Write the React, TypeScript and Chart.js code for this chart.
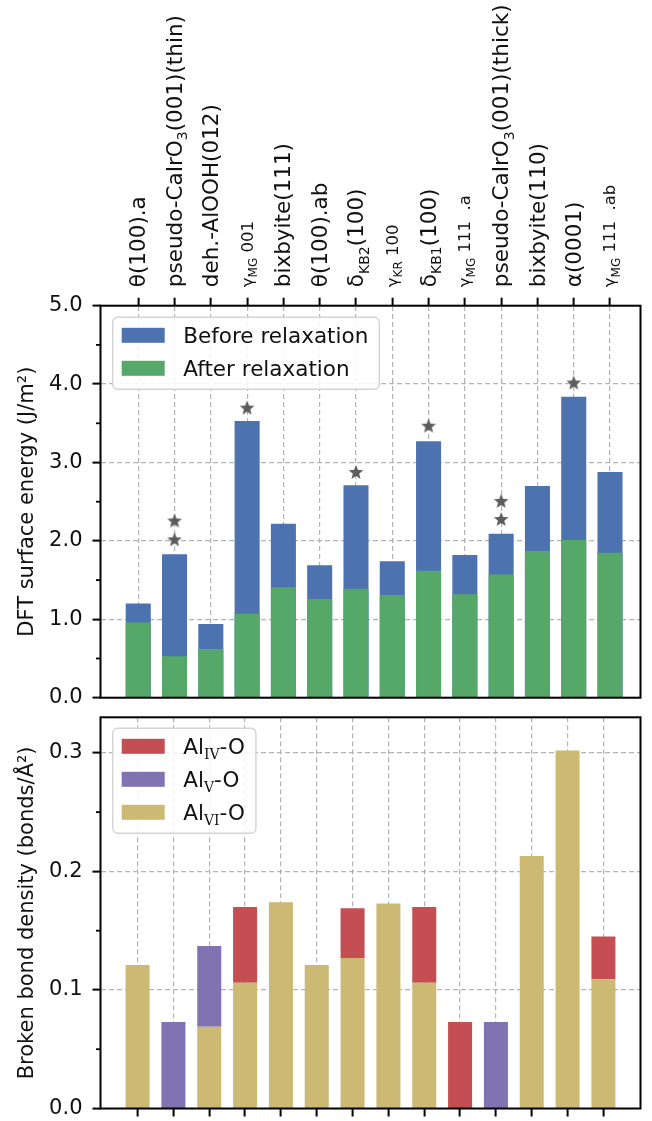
import React, { useEffect, useRef } from 'react';
import { Chart, registerables } from 'chart.js';

Chart.register(...registerables);

// ---------- data ----------
const categories = [
  'θ(100).a',
  'pseudo-CaIrO_{3}(001)(thin)',
  'deh.-AlOOH(012)',
  'γ_{MG} 001',
  'bixbyite(111)',
  'θ(100).ab',
  'δ_{KB2}(100)',
  'γ_{KR} 100',
  'δ_{KB1}(100)',
  'γ_{MG} 111  .a',
  'pseudo-CaIrO_{3}(001)(thick)',
  'bixbyite(110)',
  'α(0001)',
  'γ_{MG} 111  .ab',
];

const beforeRelax = [1.20, 1.83, 0.94, 3.53, 2.22, 1.69, 2.71, 1.74, 3.27, 1.82, 2.09, 2.70, 3.84, 2.88];
const afterRelax = [0.96, 0.53, 0.62, 1.07, 1.41, 1.26, 1.39, 1.31, 1.62, 1.32, 1.57, 1.87, 2.01, 1.85];

const starCategory = [1, 1, 3, 6, 8, 10, 10, 12];
const starHeight = [2.02, 2.26, 3.70, 2.88, 3.47, 2.28, 2.51, 4.02];

const alVI = [0.121, 0, 0.069, 0.106, 0.174, 0.121, 0.127, 0.173, 0.106, 0, 0, 0.213, 0.302, 0.109];
const alV = [0, 0.073, 0.068, 0, 0, 0, 0, 0, 0, 0, 0.073, 0, 0, 0];
const alIV = [0, 0, 0, 0.064, 0, 0, 0.042, 0, 0.064, 0.073, 0, 0, 0, 0.036];

const energyTicks = [0, 1, 2, 3, 4, 5];
const energyMinorTicks = [0.5, 1.5, 2.5, 3.5, 4.5];
const densityTicks = [0, 0.1, 0.2, 0.3];
const densityMinorTicks = [0.05, 0.15, 0.25];

const energyLegend = ['Before relaxation', 'After relaxation'];
const densityLegend = ['Al_{IV}-O', 'Al_{V}-O', 'Al_{VI}-O'];

// ---------- styles ----------
const BLUE = '#4C72B0';
const GREEN = '#55A868';
const RED = '#C44E52';
const PURPLE = '#8172B2';
const KHAKI = '#CCB974';
const STAR = '#5c5c5c';
const GRID = '#b4b4b4';
const FONT = '"DejaVu Sans"';
const SERIF = '"DejaVu Serif"';

function parseRich(s: string) {
  const parts = s.split(/_\{([^}]*)\}/);
  return parts.map((t, i) => ({ t, sub: i % 2 === 1 })).filter((p) => p.t.length > 0);
}

function makeStar(color: string) {
  const size = 18;
  const c = document.createElement('canvas');
  c.width = size;
  c.height = size;
  const g = c.getContext('2d')!;
  const cx = size / 2;
  const cy = size / 2 + 0.7;
  const R = 7.7;
  const r = R * 0.43;
  g.beginPath();
  for (let k = 0; k < 10; k++) {
    const a = -Math.PI / 2 + (k * Math.PI) / 5;
    const rad = k % 2 === 0 ? R : r;
    const px = cx + rad * Math.cos(a);
    const py = cy + rad * Math.sin(a);
    if (k === 0) g.moveTo(px, py);
    else g.lineTo(px, py);
  }
  g.closePath();
  g.fillStyle = color;
  g.fill();
  return c;
}

const framePlugin = {
  id: 'frame',
  afterDraw(chart: any, _args: any, opts: any) {
    const { ctx, chartArea } = chart;
    const ys = chart.scales.y;
    ctx.save();
    ctx.strokeStyle = '#000';
    ctx.lineWidth = 1.8;
    (opts.minor || []).forEach((v: number) => {
      const y = ys.getPixelForValue(v);
      ctx.beginPath();
      ctx.moveTo(chartArea.left - 4.5, y);
      ctx.lineTo(chartArea.left, y);
      ctx.stroke();
    });
    ctx.lineWidth = 2;
    ctx.strokeRect(chartArea.left, chartArea.top, chartArea.right - chartArea.left, chartArea.bottom - chartArea.top);
    ctx.restore();
  },
};

const legendPlugin = {
  id: 'boxLegend',
  afterDraw(chart: any, _args: any, opts: any) {
    const { ctx, chartArea } = chart;
    const items: { label: string; color: string }[] = opts.items || [];
    const left = chartArea.left + 12.2;
    const top = chartArea.top + opts.offsetTop;
    const rowGap = 33;
    const textX = left + 70.6;
    const mainSize = 21.5;
    const subSize = 14;
    ctx.save();
    let maxW = 0;
    items.forEach((it) => {
      let w = 0;
      parseRich(it.label).forEach((p) => {
        ctx.font = p.sub ? `${subSize}px ${SERIF}` : `${mainSize}px ${FONT}`;
        w += ctx.measureText(p.t).width;
      });
      maxW = Math.max(maxW, w);
    });
    const width = textX + maxW + 11 - left;
    const height = 18 + (items.length - 1) * rowGap + 21;
    const r = 5;
    ctx.beginPath();
    ctx.moveTo(left + r, top);
    ctx.arcTo(left + width, top, left + width, top + height, r);
    ctx.arcTo(left + width, top + height, left, top + height, r);
    ctx.arcTo(left, top + height, left, top, r);
    ctx.arcTo(left, top, left + width, top, r);
    ctx.closePath();
    ctx.fillStyle = 'rgba(255,255,255,0.85)';
    ctx.fill();
    ctx.strokeStyle = '#d4d4d4';
    ctx.lineWidth = 1.4;
    ctx.stroke();
    items.forEach((it, k) => {
      const cy = top + 18 + k * rowGap;
      ctx.fillStyle = it.color;
      ctx.fillRect(left + 9, cy - 7.5, 43, 15);
      let x = textX;
      ctx.fillStyle = '#111';
      ctx.textBaseline = 'alphabetic';
      ctx.textAlign = 'left';
      const base = cy + 0.36 * mainSize;
      parseRich(it.label).forEach((p) => {
        ctx.font = p.sub ? `${subSize}px ${SERIF}` : `${mainSize}px ${FONT}`;
        ctx.fillText(p.t, x, base + (p.sub ? 4.5 : 0));
        x += ctx.measureText(p.t).width;
      });
    });
    ctx.restore();
  },
};

const topLabelsPlugin = {
  id: 'topLabels',
  afterDraw(chart: any) {
    const { ctx, chartArea } = chart;
    const xs = chart.scales.x;
    const startY = chartArea.top - 8 - 10.5;
    categories.forEach((lab, i) => {
      const x = xs.getPixelForValue(i);
      const small = lab.startsWith('γ');
      const S = small ? 16.5 : 21.5;
      const subS = small ? 12 : 14;
      ctx.save();
      ctx.translate(x, startY);
      ctx.rotate(-Math.PI / 2);
      ctx.fillStyle = '#111';
      ctx.textBaseline = 'alphabetic';
      ctx.textAlign = 'left';
      let cx = 0;
      const base = 0.33 * S;
      parseRich(lab).forEach((p) => {
        ctx.font = `${p.sub ? subS : S}px ${FONT}`;
        ctx.fillText(p.t, cx, base + (p.sub ? 0.27 * S : 0));
        cx += ctx.measureText(p.t).width;
      });
      ctx.restore();
    });
  },
};

const gridCommon = {
  color: GRID,
  lineWidth: 1.2,
  tickLength: 8,
  tickWidth: 2,
  tickColor: '#000',
  tickBorderDash: [],
  offset: false,
  drawTicks: true,
};
const borderCommon = { display: false, dash: [5, 3] };

function fixX(h: number) {
  return (s: any) => {
    s.height = h;
    s.paddingLeft = 0;
    s.paddingRight = 0;
    s.paddingTop = 0;
    s.paddingBottom = 0;
  };
}
function fixY(w: number) {
  return (s: any) => {
    s.width = w;
    s.paddingLeft = 0;
    s.paddingRight = 0;
    s.paddingTop = 0;
    s.paddingBottom = 0;
  };
}

export default function App() {
  const topRef = useRef<HTMLCanvasElement>(null);
  const botRef = useRef<HTMLCanvasElement>(null);

  useEffect(() => {
    document.body.style.margin = '0';
    const star = makeStar(STAR);
    const tickFont = { family: 'DejaVu Sans', size: 21 };

    const top = new Chart(topRef.current!, {
      type: 'bar',
      data: {
        datasets: [
          {
            label: energyLegend[1],
            data: afterRelax.map((v, i) => ({ x: i, y: v })),
            backgroundColor: GREEN,
            grouped: false,
            barPercentage: 0.69,
            categoryPercentage: 1,
          } as any,
          {
            label: energyLegend[0],
            data: beforeRelax.map((v, i) => ({ x: i, y: v })),
            backgroundColor: BLUE,
            grouped: false,
            barPercentage: 0.69,
            categoryPercentage: 1,
          } as any,
          {
            type: 'line',
            label: 'stars',
            data: starCategory.map((c, k) => ({ x: c, y: starHeight[k] })),
            showLine: false,
            pointStyle: star,
            pointRadius: 7,
            backgroundColor: STAR,
            borderColor: STAR,
          } as any,
        ],
      },
      options: {
        animation: false,
        responsive: false,
        devicePixelRatio: 1,
        layout: { padding: { left: 0, right: 11.5, top: 0, bottom: 9.3 } },
        plugins: {
          legend: { display: false },
          tooltip: { enabled: false },
          frame: { minor: energyMinorTicks },
          boxLegend: {
            offsetTop: 11.6,
            items: [
              { label: energyLegend[0], color: BLUE },
              { label: energyLegend[1], color: GREEN },
            ],
          },
        } as any,
        scales: {
          x: {
            type: 'linear',
            position: 'top',
            min: -1.04,
            max: 13.84,
            offset: false,
            afterBuildTicks: (s: any) => {
              s.ticks = categories.map((_, i) => ({ value: i }));
            },
            afterFit: fixX(305.7),
            ticks: { display: false },
            grid: gridCommon,
            border: borderCommon,
          } as any,
          y: {
            type: 'linear',
            min: 0,
            max: 5,
            afterBuildTicks: (s: any) => {
              s.ticks = energyTicks.map((v) => ({ value: v }));
            },
            afterFit: fixY(100.5),
            ticks: {
              font: tickFont,
              color: '#111',
              padding: 10,
              callback: (v: any) => Number(v).toFixed(1),
            },
            grid: gridCommon,
            border: borderCommon,
            title: {
              display: true,
              text: 'DFT surface energy (J/m²)',
              font: tickFont,
              color: '#111',
              padding: { top: 15, bottom: 0 },
            },
          } as any,
        },
      },
      plugins: [framePlugin, legendPlugin, topLabelsPlugin],
    });

    const bot = new Chart(botRef.current!, {
      type: 'bar',
      data: {
        datasets: [
          { label: densityLegend[2], data: alVI.map((v, i) => ({ x: i, y: v })), backgroundColor: KHAKI },
          { label: densityLegend[1], data: alV.map((v, i) => ({ x: i, y: v })), backgroundColor: PURPLE },
          { label: densityLegend[0], data: alIV.map((v, i) => ({ x: i, y: v })), backgroundColor: RED },
        ] as any,
      },
      options: {
        animation: false,
        responsive: false,
        devicePixelRatio: 1,
        datasets: { bar: { barPercentage: 0.67, categoryPercentage: 1 } } as any,
        layout: { padding: { left: 0, right: 11.5, top: 10.3, bottom: 0 } },
        plugins: {
          legend: { display: false },
          tooltip: { enabled: false },
          frame: { minor: densityMinorTicks },
          boxLegend: {
            offsetTop: 11,
            items: [
              { label: densityLegend[0], color: RED },
              { label: densityLegend[1], color: PURPLE },
              { label: densityLegend[2], color: KHAKI },
            ],
          },
        } as any,
        scales: {
          x: {
            type: 'linear',
            position: 'bottom',
            stacked: true,
            min: -1.035,
            max: 14.035,
            offset: false,
            afterBuildTicks: (s: any) => {
              s.ticks = categories.map((_, i) => ({ value: i }));
            },
            afterFit: fixX(12.5),
            ticks: { display: false },
            grid: gridCommon,
            border: borderCommon,
          } as any,
          y: {
            type: 'linear',
            stacked: true,
            min: 0,
            max: 0.33,
            afterBuildTicks: (s: any) => {
              s.ticks = densityTicks.map((v) => ({ value: v }));
            },
            afterFit: fixY(100.5),
            ticks: {
              font: tickFont,
              color: '#111',
              padding: 10,
              callback: (v: any) => Number(v).toFixed(1),
            },
            grid: gridCommon,
            border: borderCommon,
            title: {
              display: true,
              text: 'Broken bond density (bonds/Å²)',
              font: tickFont,
              color: '#111',
              padding: { top: 15, bottom: 0 },
            },
          } as any,
        },
      },
      plugins: [framePlugin, legendPlugin],
    });

    return () => {
      top.destroy();
      bot.destroy();
    };
  }, []);

  return (
    <div style={{ position: 'absolute', left: 0, top: 0, width: 652, height: 1121, background: '#fff' }}>
      <canvas ref={topRef} width={652} height={707} style={{ display: 'block', width: 652, height: 707 }} />
      <canvas ref={botRef} width={652} height={414} style={{ display: 'block', width: 652, height: 414 }} />
    </div>
  );
}
